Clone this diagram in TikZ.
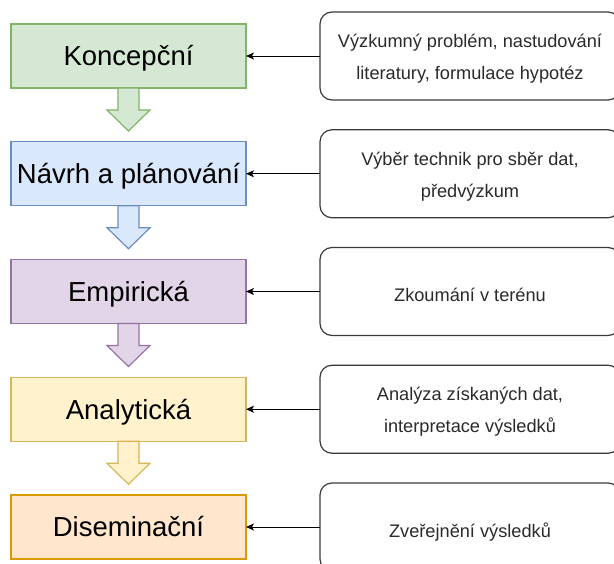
\documentclass[tikz,border=0pt]{standalone}
\usepackage{fontspec}
\setmainfont{Liberation Sans}
\usetikzlibrary{arrows.meta,calc}

% stage colours (fill / stroke)
\definecolor{greenF}{HTML}{D5E8D4}\definecolor{greenD}{HTML}{82B366}
\definecolor{blueF}{HTML}{DAE8FC}\definecolor{blueD}{HTML}{6C8EBF}
\definecolor{purpleF}{HTML}{E1D5E7}\definecolor{purpleD}{HTML}{9673A6}
\definecolor{yellowF}{HTML}{FFF2CC}\definecolor{yellowD}{HTML}{D6B656}
\definecolor{orangeF}{HTML}{FFE6CC}\definecolor{orangeD}{HTML}{D79B00}
\definecolor{noteD}{HTML}{3A3A3A}
\definecolor{noteT}{HTML}{2A2A2A}

% block arrow hanging below a stage box
\newcommand\stagearrow[3]{%
  \filldraw[fill=#2,draw=#3,line width=1.2pt,line join=miter]
    ($(#1.south)+(-10.5,0)$) -- ++(0,22) -- ++(-11,0) -- ++(21.5,21)
    -- ++(21.5,-21) -- ++(-11,0) -- ++(0,-22) -- cycle;}

\begin{document}
\begin{tikzpicture}[x=1pt,y=-1pt,
  stagebox/.style={rectangle,line width=1.2pt,outer sep=0pt,
    minimum width=235pt,minimum height=64pt,
    font=\fontsize{27.5}{30}\selectfont,text height=19.7pt,text depth=0pt},
  notebox/.style={rectangle,rounded corners=12pt,draw=noteD,line width=1.2pt,
    outer sep=0pt,minimum width=300pt,minimum height=88pt},
  notetext/.style={anchor=base,inner sep=0pt,text=noteT,
    font=\fontsize{18.2}{20}\selectfont},
  feed/.style={-{Stealth[length=8pt,width=7pt,inset=2pt]},line width=0.9pt,black}]

\clip (0,0) rectangle (614,564);
\fill[white] (0,0) rectangle (614,564);

% stages of the research process
\node[stagebox,fill=greenF,draw=greenD]   (s1) at (128.5,56)     {Koncepční};
\node[stagebox,fill=blueF,draw=blueD]     (s2) at (128.5,173.75) {Návrh a plánování};
\node[stagebox,fill=purpleF,draw=purpleD] (s3) at (128.5,291.5)  {Empirická};
\node[stagebox,fill=yellowF,draw=yellowD] (s4) at (128.5,409.25) {Analytická};
\node[stagebox,fill=orangeF,draw=orangeD] (s5) at (128.5,527)    {Diseminační};

\stagearrow{s1}{greenF}{greenD}
\stagearrow{s2}{blueF}{blueD}
\stagearrow{s3}{purpleF}{purpleD}
\stagearrow{s4}{yellowF}{yellowD}

% descriptions of each stage
\node[notebox] (n1) at (470,56)     {};
\node[notebox] (n2) at (470,173.75) {};
\node[notebox] (n3) at (470,291.5)  {};
\node[notebox] (n4) at (470,409.25) {};
\node[notebox] (n5) at (470,527)    {};

\node[notetext] (t1a) at ($(n1.center)+(0,-8.5)$) {Výzkumný problém, nastudování};
\node[notetext] (t1b) at ($(n1.center)+(0,23.5)$) {literatury, formulace hypotéz};
\node[notetext] (t2a) at ($(n2.center)+(0,-8.5)$) {Výběr technik pro sběr dat,};
\node[notetext] (t2b) at ($(n2.center)+(0,23.5)$) {předvýzkum};
\node[notetext] (t3)  at ($(n3.center)+(0,10)$)   {Zkoumání v terénu};
\node[notetext] (t4a) at ($(n4.center)+(0,-8.5)$) {Analýza získaných dat,};
\node[notetext] (t4b) at ($(n4.center)+(0,23.5)$) {interpretace výsledků};
\node[notetext] (t5)  at ($(n5.center)+(0,10)$)   {Zveřejnění výsledků};

% links from descriptions to stages
\foreach \i in {1,...,5}
  \draw[feed] (n\i.west) -- (s\i.east);

\end{tikzpicture}
\end{document}
